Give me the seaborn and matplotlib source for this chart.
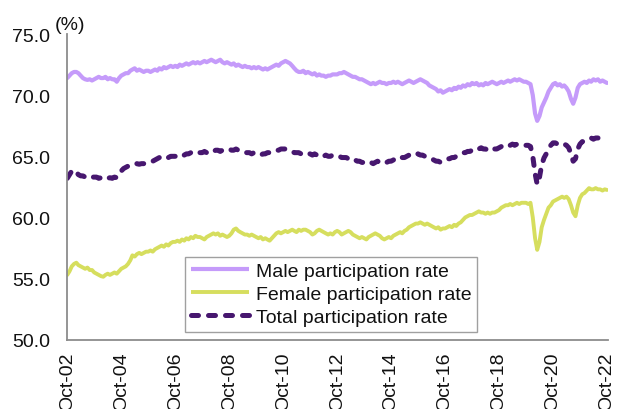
import numpy as np
import pandas as pd
import matplotlib
matplotlib.use("Agg")
import matplotlib.pyplot as plt
import seaborn as sns

# ---------------- data (monthly, Oct-2002 .. Oct-2022) ----------------
start_month = "2002-10-01"

male_rate = [
    71.4, 71.6, 71.8, 71.9, 71.9, 71.8, 71.6, 71.4, 71.3, 71.25, 71.3, 71.2,
    71.3, 71.4, 71.5, 71.4, 71.4, 71.5, 71.3, 71.4, 71.3, 71.3, 71.1, 71.4,
    71.6, 71.7, 71.8, 71.8, 72.0, 72.1, 72.2, 72.0, 72.1, 72.0, 71.9, 72.0,
    72.0, 71.9, 72.0, 72.1, 72.0, 72.2, 72.1, 72.3, 72.2, 72.3, 72.4, 72.3,
    72.4, 72.3, 72.5, 72.4, 72.5, 72.6, 72.5, 72.6, 72.7, 72.6, 72.7, 72.6,
    72.7, 72.8, 72.7, 72.8, 72.9, 72.8, 72.7, 72.8, 72.9, 72.7, 72.6, 72.7,
    72.6, 72.5, 72.6, 72.4, 72.5, 72.4, 72.3, 72.4, 72.3, 72.3, 72.2, 72.3,
    72.2, 72.3, 72.2, 72.1, 72.2, 72.1, 72.2, 72.3, 72.4, 72.5, 72.4, 72.6,
    72.7, 72.8, 72.7, 72.6, 72.4, 72.2, 72.0, 71.9, 71.9, 72.0, 71.8, 71.9,
    71.8, 71.7, 71.8, 71.6, 71.7, 71.6, 71.6, 71.5, 71.6, 71.6, 71.7, 71.7,
    71.7, 71.8, 71.8, 71.9, 71.8, 71.7, 71.6, 71.5, 71.5, 71.4, 71.3, 71.3,
    71.2, 71.1, 71.0, 70.9, 71.0, 70.9, 71.0, 71.1, 71.0, 71.0, 70.9, 71.0,
    71.0, 71.1, 71.0, 71.1, 71.0, 70.9, 71.0, 71.1, 71.2, 71.1, 71.0, 71.1,
    71.2, 71.3, 71.2, 71.1, 71.0, 70.8, 70.7, 70.6, 70.5, 70.3, 70.4, 70.2,
    70.3, 70.4, 70.5, 70.4, 70.6, 70.5, 70.7, 70.6, 70.8, 70.7, 70.9, 70.8,
    71.0, 70.9, 71.0, 70.8, 70.9, 70.8, 71.0, 70.9, 71.0, 71.1, 71.0, 70.9,
    71.0, 71.1, 71.0, 71.1, 71.2, 71.1, 71.2, 71.3, 71.2, 71.3, 71.2, 71.1,
    71.1, 71.0, 70.9, 70.0, 68.5, 67.9, 68.3, 69.0, 69.4, 69.8, 70.3, 70.6,
    70.9, 71.0, 70.8, 70.9, 70.7, 70.8, 70.6, 70.3, 69.7, 69.3, 69.8, 70.6,
    70.9, 71.0, 71.1, 71.0, 71.2, 71.1, 71.3, 71.2, 71.3, 71.1, 71.2, 71.1,
    71.0,
]

female_rate = [
    55.3, 55.6, 56.0, 56.2, 56.3, 56.1, 56.0, 55.9, 55.8, 55.9, 55.7, 55.7,
    55.5, 55.4, 55.3, 55.2, 55.15, 55.3, 55.4, 55.3, 55.4, 55.5, 55.4, 55.6,
    55.8, 55.9, 56.0, 56.2, 56.5, 56.9, 56.8, 57.0, 57.1, 57.0, 57.1, 57.2,
    57.2, 57.3, 57.2, 57.4, 57.5, 57.6, 57.7, 57.6, 57.8, 57.7, 57.9, 58.0,
    58.0, 58.1, 58.0, 58.2, 58.1, 58.3, 58.2, 58.4, 58.3, 58.5, 58.4, 58.4,
    58.3, 58.2, 58.4, 58.5, 58.6, 58.7, 58.6, 58.7, 58.5, 58.6, 58.5, 58.4,
    58.5, 58.7, 59.0, 59.1, 58.9, 58.8, 58.7, 58.6, 58.6, 58.5, 58.6, 58.5,
    58.4, 58.3, 58.4, 58.2, 58.3, 58.2, 58.1, 58.3, 58.5, 58.7, 58.8, 58.7,
    58.8, 58.9, 58.8, 58.9, 59.0, 58.9, 58.8, 59.0, 58.9, 59.0, 59.0, 58.9,
    58.8, 58.6, 58.7, 58.9, 59.0, 58.9, 58.8, 58.7, 58.6, 58.7, 58.6, 58.8,
    58.9, 58.8, 58.6, 58.7, 58.8, 58.9, 58.8, 58.6, 58.5, 58.4, 58.3, 58.4,
    58.3, 58.2, 58.4, 58.5, 58.6, 58.7, 58.6, 58.5, 58.3, 58.2, 58.3, 58.4,
    58.3, 58.5, 58.6, 58.7, 58.8, 58.7, 58.9, 59.0, 59.2, 59.3, 59.4, 59.5,
    59.5, 59.6, 59.5, 59.4, 59.5, 59.4, 59.3, 59.2, 59.1, 59.2, 59.0, 59.1,
    59.1, 59.2, 59.3, 59.2, 59.4, 59.3, 59.5, 59.6, 59.8, 60.0, 60.1, 60.2,
    60.2, 60.3, 60.4, 60.5, 60.4, 60.4, 60.3, 60.4, 60.3, 60.4, 60.4, 60.5,
    60.6, 60.8, 60.9, 61.0, 61.0, 61.1, 61.0, 61.1, 61.2, 61.1, 61.2, 61.2,
    61.2, 61.1, 61.2, 60.0, 58.3, 57.35, 58.0, 59.2, 59.8, 60.3, 60.8, 61.0,
    61.3, 61.4, 61.5, 61.6, 61.7, 61.6, 61.7, 61.5, 61.0, 60.4, 60.1, 61.0,
    61.6, 61.9, 62.0, 62.2, 62.4, 62.3, 62.3, 62.4, 62.3, 62.3, 62.2, 62.3,
    62.25,
]

total_rate = [
    63.2, 63.5, 63.8, 63.9, 63.7, 63.5, 63.4, 63.4, 63.3, 63.4, 63.3, 63.3,
    63.3, 63.3, 63.2, 63.25, 63.2, 63.3, 63.2, 63.25, 63.2, 63.3, 63.25, 63.5,
    63.8, 64.0, 64.1, 64.2, 64.3, 64.3, 64.3, 64.4, 64.35, 64.4, 64.4, 64.45,
    64.5, 64.5, 64.6, 64.7, 64.8, 64.9, 64.85, 64.9, 65.0, 64.9, 65.0, 65.0,
    65.0, 65.0, 65.1, 65.0, 65.1, 65.2, 65.2, 65.3, 65.2, 65.3, 65.3, 65.3,
    65.3, 65.4, 65.3, 65.4, 65.5, 65.4, 65.5, 65.5, 65.4, 65.5, 65.5, 65.6,
    65.6, 65.5, 65.5, 65.6, 65.5, 65.4, 65.4, 65.3, 65.3, 65.3, 65.2, 65.3,
    65.2, 65.2, 65.1, 65.2, 65.2, 65.3, 65.3, 65.4, 65.4, 65.5, 65.5, 65.6,
    65.6, 65.6, 65.5, 65.4, 65.4, 65.3, 65.3, 65.3, 65.2, 65.3, 65.2, 65.2,
    65.2, 65.1, 65.2, 65.1, 65.2, 65.1, 65.0, 65.1, 65.0, 65.0, 65.1, 65.0,
    65.0, 65.0, 64.9, 64.9, 64.9, 64.8, 64.9, 64.8, 64.7, 64.6, 64.6, 64.5,
    64.5, 64.4, 64.5, 64.5, 64.4, 64.5, 64.6, 64.5, 64.6, 64.6, 64.5, 64.6,
    64.6, 64.7, 64.8, 64.7, 64.8, 64.9, 64.9, 65.0, 65.1, 65.0, 65.1, 65.15,
    65.2, 65.1, 65.1, 65.0, 64.9, 64.9, 64.8, 64.7, 64.6, 64.6, 64.5, 64.6,
    64.7, 64.8, 64.8, 64.9, 64.9, 65.0, 65.1, 65.2, 65.3, 65.3, 65.4, 65.4,
    65.5, 65.6, 65.7, 65.6, 65.7, 65.6, 65.6, 65.5, 65.6, 65.5, 65.6, 65.6,
    65.7, 65.8, 65.8, 65.9, 65.8, 65.9, 66.0, 65.9, 66.0, 66.0, 65.9, 65.9,
    65.9, 65.9, 65.8, 65.0, 63.6, 62.7, 63.3, 64.3, 64.87, 65.2, 65.6, 65.9,
    66.1, 66.1, 66.0, 66.1, 66.0, 66.0, 65.9, 65.7, 65.2, 64.6, 64.8, 65.6,
    66.0, 66.2, 66.2, 66.3, 66.4, 66.5, 66.4, 66.5, 66.5, 66.4, 66.5, 66.4,
    66.4,
]

series_labels = ["Male participation rate", "Female participation rate", "Total participation rate"]
tick_dates = ["2002-10-01", "2004-10-01", "2006-10-01", "2008-10-01", "2010-10-01",
              "2012-10-01", "2014-10-01", "2016-10-01", "2018-10-01", "2020-10-01",
              "2022-10-01"]
tick_labels = ["Oct-02", "Oct-04", "Oct-06", "Oct-08", "Oct-10", "Oct-12",
               "Oct-14", "Oct-16", "Oct-18", "Oct-20", "Oct-22"]
y_ticks = [50.0, 55.0, 60.0, 65.0, 70.0, 75.0]

# ---------------- figure ----------------
sns.set_theme(style="white")
plt.rcParams["font.family"] = ["Liberation Sans", "DejaVu Sans"]

dates = pd.date_range(start_month, periods=len(male_rate), freq="MS")
df = pd.DataFrame({"date": dates, "male": male_rate,
                   "female": female_rate, "total": total_rate})

fig = plt.figure(figsize=(6.17, 4.10), dpi=100)
ax = fig.add_axes([0.109, 0.169, 0.877, 0.7455])

c_male = "#C59BFA"
c_female = "#D6DE5E"
c_total = "#47176F"

sns.lineplot(data=df, x="date", y="male", ax=ax, color=c_male, linewidth=3.0,
             label=series_labels[0])
sns.lineplot(data=df, x="date", y="female", ax=ax, color=c_female, linewidth=2.8,
             label=series_labels[1])
sns.lineplot(data=df, x="date", y="total", ax=ax, color=c_total, linewidth=3.6,
             linestyle=(0, (1.4, 2.0)), label=series_labels[2])

for ln in ax.get_lines():
    ln.set_solid_joinstyle("round")
    ln.set_solid_capstyle("round")
    ln.set_dash_capstyle("round")
    ln.set_dash_joinstyle("round")

ax.set_ylim(50, 75)
ax.set_yticks(y_ticks)
ax.set_yticklabels([f"{v:.1f}" for v in y_ticks])
tds = pd.to_datetime(tick_dates)
ax.set_xticks(tds)
ax.set_xticklabels(tick_labels, rotation=90)
ax.set_xlim(pd.Timestamp("2002-10-01"), pd.Timestamp("2022-10-20"))
ax.set_xlabel("")
ax.set_ylabel("")

for side in ["top", "right"]:
    ax.spines[side].set_visible(False)
for side in ["left", "bottom"]:
    ax.spines[side].set_color("#8C8C8C")
    ax.spines[side].set_linewidth(1.3)

ax.tick_params(axis="both", which="major", length=4.5, width=1.2, color="#8C8C8C",
               labelsize=14, labelcolor="#111111", direction="out")
ax.tick_params(axis="y", pad=8)
ax.tick_params(axis="x", pad=4)
ax.grid(False)

ax.text(0.005, 1.005, "(%)", transform=ax.transAxes, ha="center", va="bottom",
        fontsize=14, color="#111111")

leg = ax.legend(loc="lower left", bbox_to_anchor=(0.2175, 0.025),
                borderaxespad=0, fontsize=14, frameon=True, fancybox=False,
                handlelength=3.0, handletextpad=0.35, labelspacing=0.28,
                borderpad=0.3)
leg.get_frame().set_edgecolor("#A0A0A0")
leg.get_frame().set_linewidth(1.0)
leg.get_frame().set_alpha(1)
for t in leg.get_texts():
    t.set_color("#111111")
for h in leg.get_lines():
    h.set_dash_capstyle("round")
    h.set_solid_capstyle("butt")

fig.savefig("out.png", dpi=100, facecolor="white")
